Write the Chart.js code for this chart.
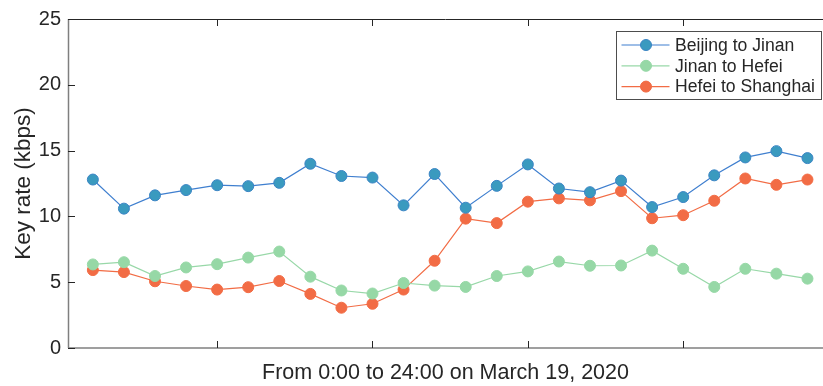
<!DOCTYPE html>
<html>
<head>
<meta charset="utf-8">
<script src="https://cdn.jsdelivr.net/npm/chart.js@4/dist/chart.umd.min.js"></script>
<style>
  html, body { margin: 0; padding: 0; background: #ffffff; }
  #wrap { width: 823px; height: 386px; }
</style>
</head>
<body>
<div id="wrap"><canvas id="c" width="823" height="386"></canvas></div>
<script>
// Hourly samples over the day (sample index along the time axis)
const samples = [1,2,3,4,5,6,7,8,9,10,11,12,13,14,15,16,17,18,19,20,21,22,23,24];

// Key rates in kbps for each link
const beijingJinan = [12.80,10.59,11.60,12.00,12.37,12.30,12.55,14.00,13.07,12.95,10.84,13.22,
                      10.66,12.32,13.95,12.12,11.84,12.72,10.71,11.47,13.12,14.48,14.96,14.43];
const jinanHefei   = [6.35,6.52,5.47,6.12,6.37,6.87,7.33,5.42,4.37,4.14,4.94,4.74,
                      4.64,5.47,5.82,6.57,6.25,6.27,7.40,6.02,4.64,6.02,5.65,5.27];
const hefeiShanghai= [5.92,5.77,5.07,4.71,4.44,4.62,5.09,4.11,3.06,3.36,4.44,6.63,
                      9.83,9.49,11.12,11.37,11.22,11.92,9.86,10.09,11.19,12.88,12.40,12.80];

const seriesNames = ['Beijing to Jinan', 'Jinan to Hefei', 'Hefei to Shanghai'];
const yTicks = [0, 5, 10, 15, 20, 25];
const xTicks = [5, 10, 15, 20];
const xTitle = 'From 0:00 to 24:00 on March 19, 2020';
const yTitle = 'Key rate (kbps)';

const FONT = '"Liberation Sans", Arial, Helvetica, sans-serif';
const TXT = '#262626';

function pts(vals) { return samples.map((s, i) => ({ x: s, y: vals[i] })); }

const styles = [
  { line: '#3f7fcf', fill: '#3a9abf', edge: '#3a84c4' },
  { line: '#98d8a8', fill: '#96d8a6', edge: '#96d8a6' },
  { line: '#f26c45', fill: '#f26c45', edge: '#f26c45' }
];
const values = [beijingJinan, jinanHefei, hefeiShanghai];

const datasets = values.map((v, i) => ({
  label: seriesNames[i],
  data: pts(v),
  borderColor: styles[i].line,
  borderWidth: 1.2,
  pointBackgroundColor: styles[i].fill,
  pointBorderColor: styles[i].edge,
  pointBorderWidth: 1,
  pointRadius: 5.5,
  pointHoverRadius: 5.5,
  tension: 0
}));

// Axis frame with inward tick marks
const framePlugin = {
  id: 'frame',
  afterDatasetsDraw(chart) {
    const { ctx, chartArea: a, scales } = chart;
    ctx.save();
    ctx.lineWidth = 1;
    // top border
    ctx.strokeStyle = '#262626';
    ctx.beginPath(); ctx.moveTo(a.left, a.top + 0.5); ctx.lineTo(a.right, a.top + 0.5); ctx.stroke();
    // left and bottom axes
    ctx.strokeStyle = '#7f7f7f';
    ctx.lineWidth = 1.5;
    ctx.beginPath(); ctx.moveTo(a.left + 0.5, a.top); ctx.lineTo(a.left + 0.5, a.bottom); ctx.stroke();
    ctx.beginPath(); ctx.moveTo(a.left, a.bottom); ctx.lineTo(a.right, a.bottom); ctx.stroke();
    ctx.lineWidth = 1;
    ctx.strokeStyle = '#262626';
    const tl = 7;
    scales.y.ticks.forEach(t => {
      const y = Math.round(scales.y.getPixelForValue(t.value)) + 0.5;
      ctx.beginPath(); ctx.moveTo(a.left, y); ctx.lineTo(a.left + tl, y); ctx.stroke();
    });
    xTicks.forEach(v => {
      const x = Math.round(scales.x.getPixelForValue(v)) + 0.5;
      ctx.beginPath(); ctx.moveTo(x, a.bottom); ctx.lineTo(x, a.bottom - tl); ctx.stroke();
      ctx.beginPath(); ctx.moveTo(x, a.top); ctx.lineTo(x, a.top + tl); ctx.stroke();
    });
    ctx.restore();
  }
};

// Boxed legend with line-and-marker samples
const boxLegend = {
  id: 'boxLegend',
  afterDraw(chart) {
    const { ctx, chartArea: a } = chart;
    const w = 205, h = 68;
    const x0 = Math.round(a.right - 2 - w) + 0.5, y0 = Math.round(a.top + 12) + 0.5;
    ctx.save();
    ctx.fillStyle = '#ffffff';
    ctx.fillRect(x0, y0, w, h);
    ctx.strokeStyle = '#4d4d4d';
    ctx.lineWidth = 1;
    ctx.strokeRect(x0, y0, w, h);
    ctx.font = '17.6px ' + FONT;
    ctx.textBaseline = 'middle';
    ctx.textAlign = 'left';
    chart.data.datasets.forEach((ds, i) => {
      const cy = y0 + 13.5 + i * 20.8;
      ctx.strokeStyle = ds.borderColor;
      ctx.lineWidth = 1.2;
      ctx.beginPath(); ctx.moveTo(x0 + 5, cy); ctx.lineTo(x0 + 53, cy); ctx.stroke();
      ctx.beginPath(); ctx.arc(x0 + 29.5, cy, 5.5, 0, Math.PI * 2);
      ctx.fillStyle = ds.pointBackgroundColor; ctx.fill();
      ctx.strokeStyle = ds.pointBorderColor; ctx.lineWidth = 1; ctx.stroke();
      ctx.fillStyle = TXT;
      ctx.fillText(ds.label, x0 + 58.5, cy + 1);
    });
    ctx.restore();
  }
};

new Chart(document.getElementById('c'), {
  type: 'line',
  data: { datasets },
  options: {
    responsive: false,
    animation: false,
    devicePixelRatio: 1,
    layout: { autoPadding: false, padding: { top: 16, right: 0, left: 0, bottom: 0 } },
    plugins: { legend: { display: false }, tooltip: { enabled: false } },
    scales: {
      x: {
        type: 'linear',
        min: 0.2,
        max: 24.5,
        grid: { display: false },
        border: { display: false },
        ticks: { display: false },
        afterBuildTicks(scale) { scale.ticks = xTicks.map(v => ({ value: v })); },
        afterFit(scale) { scale.height = 38; },
        title: {
          display: true,
          text: xTitle,
          color: TXT,
          font: { family: FONT, size: 21.5 },
          padding: { top: 3, bottom: 0 }
        }
      },
      y: {
        min: 0,
        max: 25,
        grid: { display: false, drawTicks: false },
        border: { display: false },
        afterBuildTicks(scale) { scale.ticks = yTicks.map(v => ({ value: v })); },
        afterFit(scale) { scale.width = 68; },
        ticks: {
          color: TXT,
          padding: 7,
          font: { family: FONT, size: 20 }
        },
        title: {
          display: true,
          text: yTitle,
          color: TXT,
          font: { family: FONT, size: 22.5 },
          padding: { top: 10, bottom: 0 }
        }
      }
    }
  },
  plugins: [framePlugin, boxLegend]
});
</script>
</body>
</html>
